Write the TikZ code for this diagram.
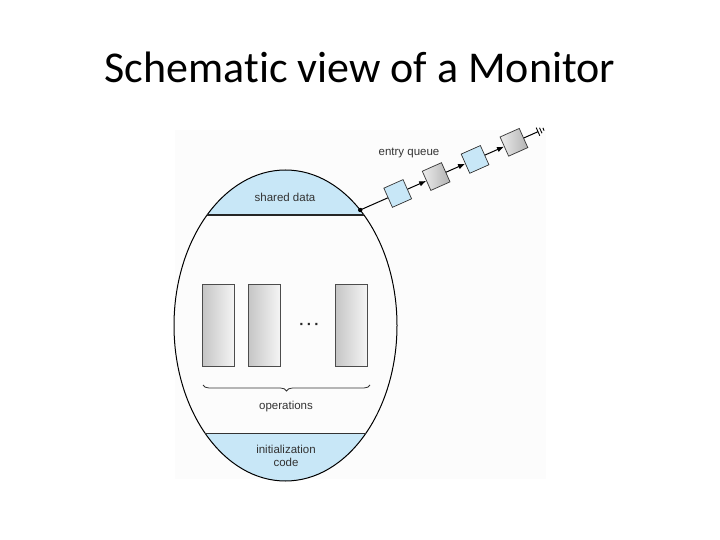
\documentclass[tikz,border=0pt]{standalone}
\usepackage{fontspec}
\setmainfont{Liberation Sans}
\newfontfamily\titlefont[Ligatures=NoCommon]{Carlito}
\usetikzlibrary{shapes.geometric,arrows.meta,calc,decorations.pathreplacing}
\definecolor{bandblue}{RGB}{200,231,247}
\definecolor{bgpaper}{RGB}{252,252,252}
\tikzset{
  lbl/.style={font=\fontsize{11.5}{13}\selectfont, text=black!80, align=center, inner sep=0},
  qbox/.style={draw=black!80, line width=0.7pt, minimum size=21pt, inner sep=0, rotate=24},
  qblue/.style={qbox, fill=bandblue},
  qgray/.style={qbox, left color=gray!15, right color=gray!60},
  opbox/.style={draw=black!70, line width=0.6pt, minimum width=31.5pt, minimum height=82pt, inner sep=0,
    left color=gray!45, right color=gray!8},
  qarrow/.style={line width=1pt, -{Latex[length=7pt,width=5.5pt]}},
}
\begin{document}
\begin{tikzpicture}[x=1pt,y=-1pt]
\useasboundingbox (0,0) rectangle (720,540);
% title
\node[font=\titlefont\fontsize{44}{50}\selectfont, anchor=base] (title) at (360,83) {Schematic view of a Monitor};
% faint paper background of the figure
\fill[bgpaper] (175,130) rectangle (546,479);
% bands
\begin{scope}
  \clip (285.5,325.5) ellipse [x radius=111.5pt, y radius=155.5pt];
  \fill[bandblue] (160,160) rectangle (410,215);
  \fill[bandblue] (160,433.5) rectangle (410,490);
\end{scope}
% monitor ellipse
\coordinate (mon) at (285.5,325.5);
\coordinate (montop) at (285.5,170);
\draw[line width=1pt, line join=round, line cap=round] (montop) arc[start angle=90, end angle=450, x radius=111.5pt, y radius=155.5pt];
\coordinate (sdL) at (207.05,215);
\coordinate (sdR) at (363.95,215);
\draw[line width=1.8pt, black!85] (sdL) -- (sdR);
\coordinate (icL) at (205.3,433.5);
\coordinate (icR) at (365.7,433.5);
\draw[line width=0.8pt, black!80] (icL) -- (icR);
\node[lbl] (shared) at (285,197) {shared data};
\node[lbl] (init) at (286,455.5) {initialization\\code};
% operations
\node[opbox] (op1) at (218.5,325) {};
\node[opbox] (op2) at (264.2,325) {};
\node[opbox] (op3) at (351.3,325) {};
\node[font=\bfseries\fontsize{15}{15}\selectfont, text=black!85] (dots) at (309.3,326.7) {·\,·\,·};
\coordinate (brL) at (203,385);
\coordinate (brR) at (370,385);
\draw[black!80, line width=0.8pt, decorate, decoration={brace, mirror, amplitude=6pt}] (brL) -- (brR);
\node[lbl] (ops) at (286,407) {operations};
% entry queue
\coordinate (S) at (360.2,210);
\coordinate (E) at (538,131.7);
\node[qblue] (q1) at ($(S)!41pt!(E)$) {};
\node[qgray] (q2) at ($(S)!83pt!(E)$) {};
\node[qblue] (q3) at ($(S)!125.5pt!(E)$) {};
\node[qgray] (q4) at ($(S)!168pt!(E)$) {};
\fill (S) circle (2.2pt);
\draw[line width=1pt] (S) -- (q1);
\draw[qarrow] (q1) -- (q2);
\draw[qarrow] (q2) -- (q3);
\draw[qarrow] (q3) -- (q4);
\draw[line width=1pt] (q4) -- (E);
\begin{scope}[shift={(E)}, rotate=24, line width=0.9pt]
  \draw (0,-4.5) -- (0,4.5);
  \draw (3,-3) -- (3,3);
  \draw (6,-1.5) -- (6,1.5);
\end{scope}
\node[lbl] (eq) at (409,153) {entry queue};
\end{tikzpicture}
\end{document}
